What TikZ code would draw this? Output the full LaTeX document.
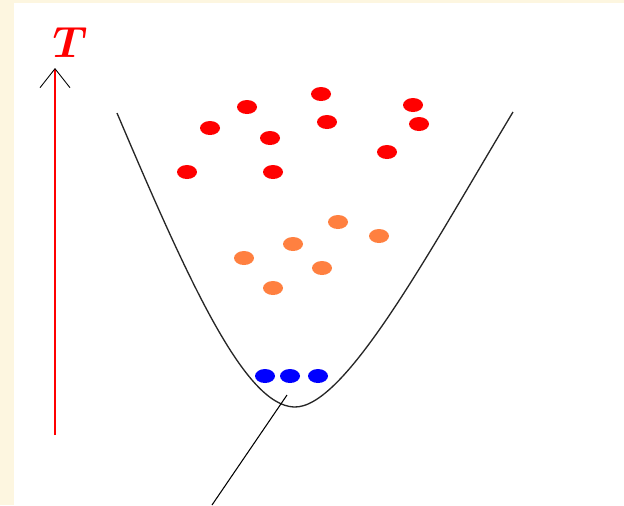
\documentclass[tikz,border=0pt]{standalone}
\usepackage{amsmath, amssymb}
\usepackage{tikz}
\usetikzlibrary{shapes.geometric, arrows.meta}
\definecolor{cream}{RGB}{253,246,224}
\definecolor{warmorange}{RGB}{255,128,64}

\begin{document}
\begin{tikzpicture}[x=0.02cm, y=-0.02cm,
    dot/.style={ellipse, minimum width=0.4cm, minimum height=0.28cm, inner sep=0pt},
    hot/.style={dot, fill=red},
    warm/.style={dot, fill=warmorange},
    cold/.style={dot, fill=blue}
]
  \useasboundingbox (0,0) rectangle (624,505);
  \fill[cream] (0,0) rectangle (624,505);
  \fill[white] (14,3) rectangle (624,505);

  % temperature axis
  \coordinate (Tbase) at (55,435);
  \coordinate (Ttip) at (55,68);
  \node[text=red, inner sep=0pt] (Tlabel) at (70,42) {\fontsize{24}{28}\selectfont$\boldsymbol{T}$};
  \draw[red, line width=1.1pt, -{Straight Barb[length=0.38cm, width=0.6cm, black, line width=0.5pt]}] (Tbase) -- (Ttip);

  % potential well
  \draw[line width=0.75pt, black!85] (117,113) .. controls (190,285) and (245,405) .. (294,407)
    .. controls (345,409) and (430,250) .. (513,112);

  % particles
  \foreach \n/\x/\y in {1/210/128, 2/247/107, 3/321/94, 4/413/105, 5/270/138,
                        6/327/122, 7/419/124, 8/387/152, 9/187/172, 10/273/172}
    \node[hot] (r\n) at (\x,\y) {};
  \foreach \n/\x/\y in {1/338/222, 2/379/236, 3/293/244, 4/244/258, 5/322/268, 6/273/288}
    \node[warm] (o\n) at (\x,\y) {};
  \foreach \n/\x in {1/265, 2/290, 3/318}
    \node[cold] (b\n) at (\x,376) {};

  % pointer to the ground state
  \coordinate (ground) at (287,395);
  \coordinate (tail) at (212,505);
  \draw[line width=0.6pt] (ground) -- (tail);
\end{tikzpicture}
\end{document}
